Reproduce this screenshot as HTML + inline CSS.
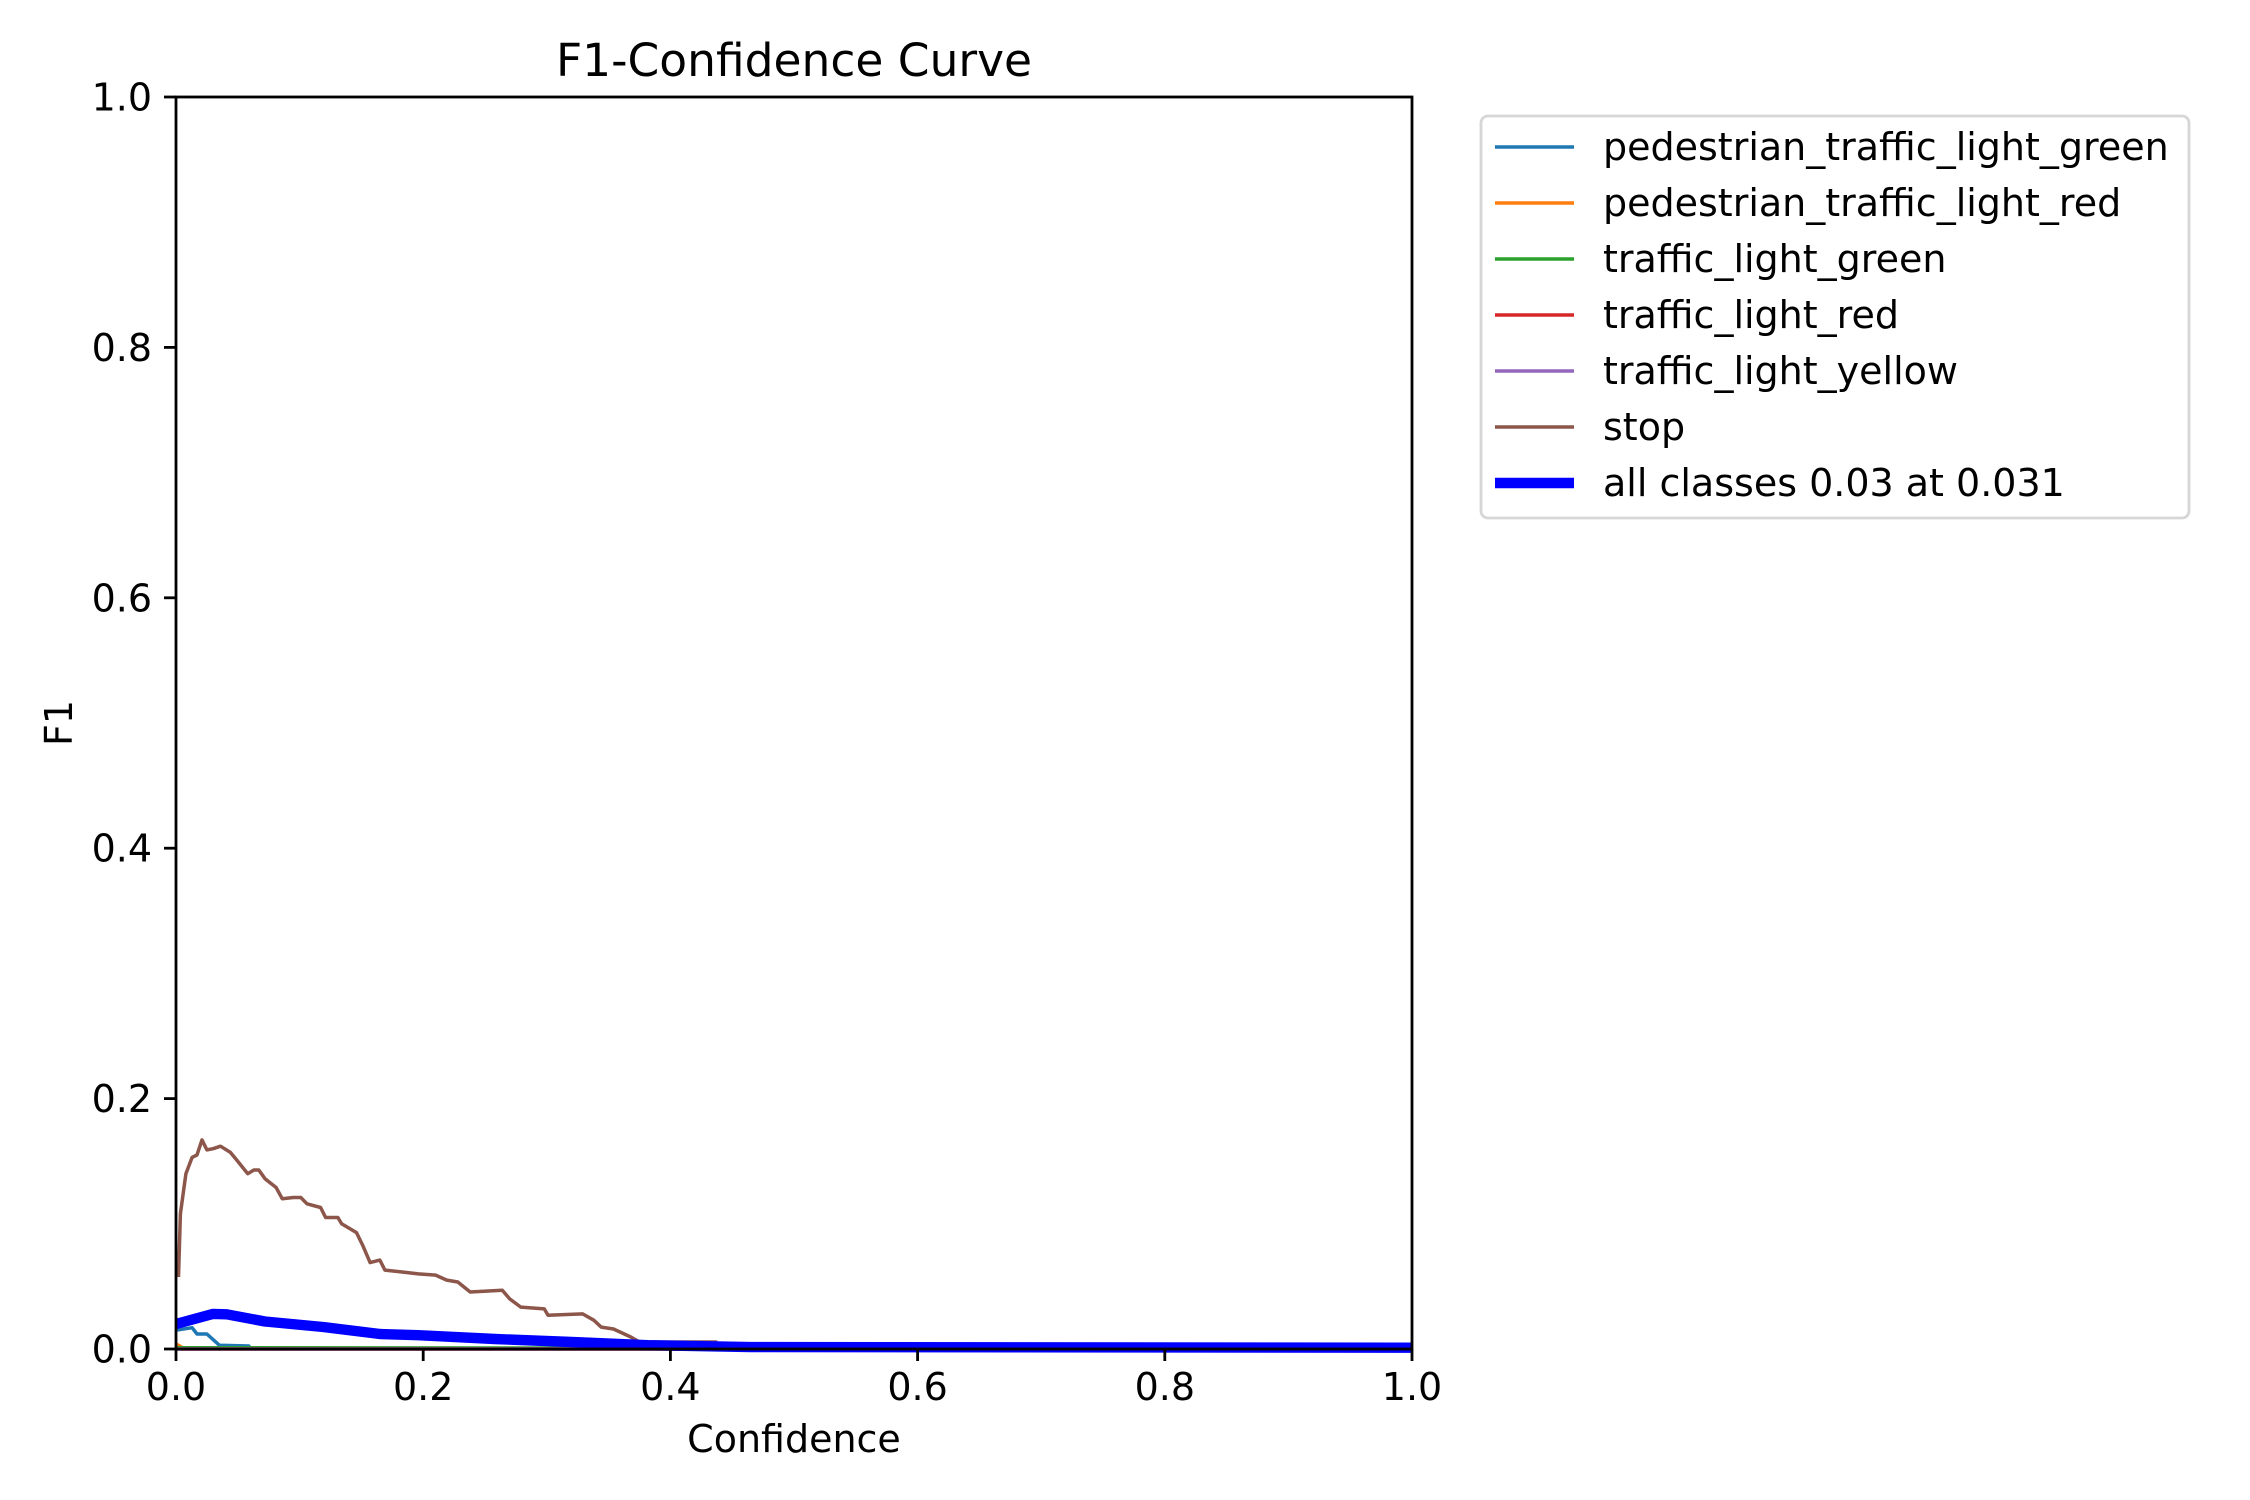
<!DOCTYPE html>
<html><head><meta charset="utf-8"><style>
html,body{margin:0;padding:0;background:#fff;}
svg{display:block;font-family:"DejaVu Sans","Liberation Sans",sans-serif;}
</style></head><body>
<svg id="chart" width="2250" height="1500" viewBox="0 0 2250 1500" xmlns="http://www.w3.org/2000/svg">
<rect width="2250" height="1500" fill="#fff"/>
<text x="794" y="76" font-size="45.5" text-anchor="middle">F1-Confidence Curve</text>
<text x="794" y="1452" font-size="38" text-anchor="middle">Confidence</text>
<text transform="translate(72,723) rotate(-90)" font-size="38" text-anchor="middle">F1</text>
<g id="plot"></g>
<g id="axes"></g>
<g id="legend"></g>
</svg>
<script>
const xTicks = [0, 0.2, 0.4, 0.6, 0.8, 1.0];
const yTicks = [0, 0.2, 0.4, 0.6, 0.8, 1.0];
const tickLabels = ["0.0", "0.2", "0.4", "0.6", "0.8", "1.0"];
const seriesNames = ["pedestrian_traffic_light_green", "pedestrian_traffic_light_red", "traffic_light_green", "traffic_light_red", "traffic_light_yellow", "stop", "all classes 0.03 at 0.031"];
const pedGreenX = [0, 0.013, 0.017, 0.025, 0.035, 0.059, 0.06, 1.0];
const pedGreenY = [0.015, 0.017, 0.012, 0.012, 0.003, 0.0024, 0, 0];
const pedRedX = [0, 0.004, 0.006, 1.0];
const pedRedY = [0.004, 0.002, 0, 0];
const tlGreenX = [0, 1.0];
const tlGreenY = [0.001, 0.0];
const tlRedX = [0, 1.0];
const tlRedY = [0, 0];
const tlYellowX = [0, 1.0];
const tlYellowY = [0, 0];
const stopX = [0.002,0.0036,0.008,0.013,0.017,0.021,0.025,0.030,0.036,0.044,0.049,0.058,0.063,0.067,0.072,0.081,0.086,0.095,0.101,0.106,0.117,0.121,0.131,0.134,0.146,0.151,0.157,0.165,0.169,0.183,0.196,0.210,0.219,0.228,0.238,0.264,0.270,0.279,0.298,0.301,0.329,0.338,0.344,0.354,0.368,0.375,0.437,0.438,1.0];
const stopY = [0.0575,0.108,0.140,0.153,0.155,0.167,0.159,0.160,0.162,0.157,0.151,0.140,0.143,0.143,0.136,0.129,0.120,0.121,0.121,0.116,0.113,0.105,0.105,0.100,0.093,0.083,0.069,0.071,0.063,0.0615,0.060,0.059,0.055,0.0535,0.0455,0.047,0.040,0.0335,0.032,0.027,0.028,0.023,0.0175,0.016,0.0096,0.0056,0.0056,0,0];
const allX = [0, 0.030, 0.041, 0.072, 0.119, 0.165, 0.196, 0.258, 0.320, 0.382, 0.465, 1.0];
const allY = [0.020, 0.028, 0.0277, 0.022, 0.0176, 0.012, 0.011, 0.008, 0.0056, 0.003, 0.0015, 0.001];

const L = 176, R = 1412, T = 97, B = 1349;
function sx(v){ return L + v * (R - L); }
function sy(v){ return B - v * (B - T); }
const NS = "http://www.w3.org/2000/svg";
function mk(tag, attrs, parent){ const e = document.createElementNS(NS, tag); for (const k in attrs) e.setAttribute(k, attrs[k]); parent.appendChild(e); return e; }

const plot = document.getElementById("plot");
const series = [
  [pedGreenX, pedGreenY, "#1f77b4", 3.5, "series-pedestrian-green"],
  [pedRedX, pedRedY, "#ff7f0e", 3.5, "series-pedestrian-red"],
  [tlGreenX, tlGreenY, "#2ca02c", 3.5, "series-traffic-green"],
  [tlRedX, tlRedY, "#d62728", 3.5, "series-traffic-red"],
  [tlYellowX, tlYellowY, "#9467bd", 3.5, "series-traffic-yellow"],
  [stopX, stopY, "#8c564b", 3.5, "series-stop"],
  [allX, allY, "#0000ff", 10.4, "series-all-classes"]
];
series.forEach(s => {
  const pts = s[0].map((x, i) => sx(x).toFixed(1) + "," + sy(s[1][i]).toFixed(1)).join(" ");
  const p = mk("polyline", {points: pts, fill: "none", stroke: s[2], "stroke-width": s[3], "stroke-linejoin": "round"}, plot);
  
  
});

const axes = document.getElementById("axes");
const frame = mk("rect", {x: L, y: T, width: R - L, height: B - T, fill: "none", stroke: "#000", "stroke-width": 2.8}, axes);


xTicks.forEach((v, i) => {
  const t = mk("line", {x1: sx(v), x2: sx(v), y1: B, y2: B + 12, stroke: "#000", "stroke-width": 2.8}, axes);
  
  
  const lb = mk("text", {x: sx(v), y: 1400, "font-size": 38, "text-anchor": "middle"}, axes);
  lb.textContent = tickLabels[i];
  
  
});
yTicks.forEach((v, i) => {
  const t = mk("line", {x1: L - 12, x2: L, y1: sy(v), y2: sy(v), stroke: "#000", "stroke-width": 2.8}, axes);
  
  
  const lb = mk("text", {x: 152, y: sy(v) + 13.5, "font-size": 38, "text-anchor": "end"}, axes);
  lb.textContent = tickLabels[i];
  
  
});

const legend = document.getElementById("legend");
const box = mk("rect", {x: 1481, y: 116, width: 708, height: 402, rx: 7, fill: "#fff", stroke: "#d6d6d6", "stroke-width": 2.8}, legend);


series.forEach((s, i) => {
  const y = 147 + i * 56;
  const ln = mk("line", {x1: 1495, x2: 1574, y1: y, y2: y, stroke: s[2], "stroke-width": s[3]}, legend);
  
  
  const tx = mk("text", {x: 1603, y: y + 13, "font-size": 38}, legend);
  tx.textContent = seriesNames[i];
  
  
});
</script>
</body></html>
